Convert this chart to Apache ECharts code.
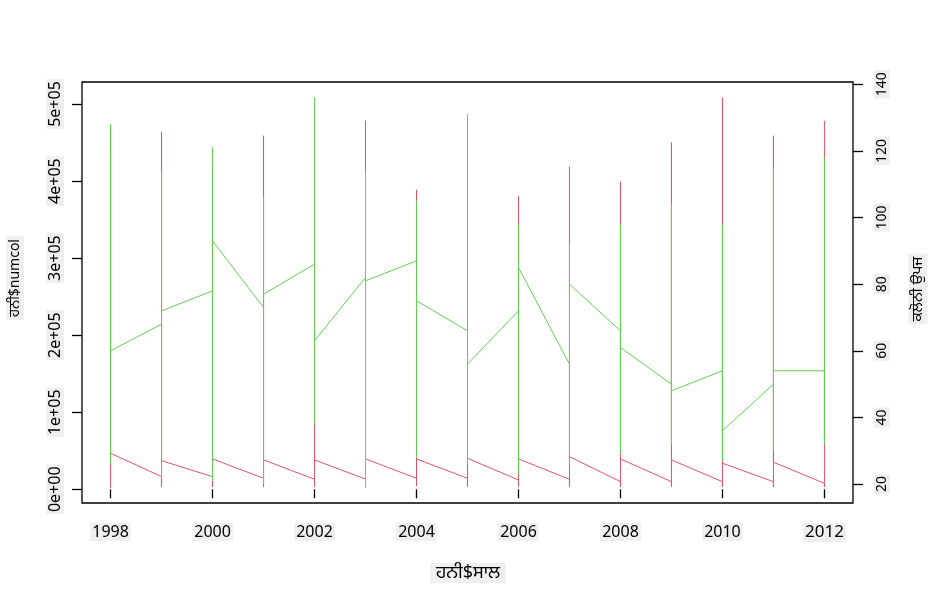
<!DOCTYPE html>
<html>
<head>
<meta charset="utf-8">
<script src="https://cdn.jsdelivr.net/npm/echarts@6.0.0/dist/echarts.min.js"></script>
<style>
  html, body { margin: 0; padding: 0; background: #fff; }
  #chart { width: 937px; height: 605px; }
</style>
</head>
<body>
<div id="chart"></div>
<script>
// years on the x axis
const years = [1998, 1999, 2000, 2001, 2002, 2003, 2004, 2005, 2006, 2007, 2008, 2009, 2010, 2011, 2012];

// numcol (left axis): value where the line arrives at the year, lowest, highest, value where it leaves
const numcolStart = [null, 16400, 16400, 14300, 13000, 13300, 14300, 14300, 12100, 13000, 9900, 9900, 9900, 9900, 7800];
const numcolMin   = [2000, 3000, 3000, 3000, 3400, 4000, 4300, 3400, 3400, 3000, 3000, 3500, 3000, 3000, 3000];
const numcolMax   = [440000, 464000, 420000, 458800, 480000, 478300, 388700, 400000, 380000, 418600, 399100, 449900, 508100, 458800, 478300];
const numcolEnd   = [46800, 37100, 39400, 38100, 38100, 39400, 39400, 40200, 39400, 42400, 39400, 38100, 33800, 35100, null];

// colony yield (right axis)
const yieldStart = [null, 68, 78, 73, 86, 82, 87, 66, 72, 56, 66, 50, 54, 50, 54];
const yieldMin   = [26, 22, 21, 20, 38, 19, 28, 26, 23, 26, 29, 32, 27, 30, 32];
const yieldMax   = [128, 114, 121, 106, 136, 114, 105, 131, 98, 92, 98, 104, 98, 115, 118];
const yieldEnd   = [60, 72, 93, 77, 63, 81, 75, 56, 85, 80, 61, 48, 36, 54, null];

// tick labels
const xTicks = [1998, 2000, 2002, 2004, 2006, 2008, 2010, 2012];
const leftTicks = [0, 100000, 200000, 300000, 400000, 500000];
const rightTicks = [20, 40, 60, 80, 100, 120, 140];

const labelBg = '#efefef';
const font = '"Noto Sans", "Noto Sans Gurmukhi", sans-serif';

// 2012 is drawn a bit larger than the other years
const xLabelRich = {
  b: { fontSize: 16, fontFamily: font, color: '#000' },
  c: { fontSize: 17, fontFamily: font, color: '#000' }
};

// one point per value, in the order the line passes through them
function buildPath(start, lo, hi, end) {
  const pts = [];
  years.forEach((y, i) => {
    if (start[i] != null) pts.push([y, start[i]]);
    pts.push([y, lo[i]]);
    pts.push([y, hi[i]]);
    if (end[i] != null) pts.push([y, end[i]]);
  });
  return pts;
}

const chart = echarts.init(document.getElementById('chart'));

const option = {
  animation: false,
  backgroundColor: '#fff',
  textStyle: { fontFamily: font },
  grid: {
    left: 82, right: 84, top: 82, bottom: 102,
    show: true, borderColor: '#000', borderWidth: 1.3, backgroundColor: 'transparent'
  },
  xAxis: {
    type: 'value',
    min: 1997.44,
    max: 2012.56,
    axisLine: { show: false },
    splitLine: { show: false },
    axisTick: { show: true, customValues: xTicks, length: 9, lineStyle: { color: '#000', width: 1.3 } },
    axisLabel: {
      customValues: xTicks, margin: 20, fontSize: 16, color: '#000',
      backgroundColor: labelBg, padding: [1, 2], fontFamily: font,
      formatter: v => '{' + (v === 2012 ? 'c' : 'b') + '|' + v + '}',
      rich: xLabelRich
    }
  },
  yAxis: [
    {
      type: 'value',
      position: 'left',
      min: -17800,
      max: 528600,
      axisLine: { show: false },
      splitLine: { show: false },
      axisTick: { show: true, customValues: leftTicks, length: 10, lineStyle: { color: '#000', width: 1.3 } },
      axisLabel: {
        customValues: leftTicks, rotate: 90, margin: 18, fontSize: 16, color: '#000',
        backgroundColor: labelBg, padding: [1, 2], fontFamily: font,
        formatter: v => v === 0 ? '0e+00' : (v / 100000) + 'e+05'
      }
    },
    {
      type: 'value',
      position: 'right',
      min: 14.32,
      max: 140.68,
      axisLine: { show: false },
      splitLine: { show: false },
      axisTick: { show: true, customValues: rightTicks, length: 10, lineStyle: { color: '#000', width: 1.3 } },
      axisLabel: {
        customValues: rightTicks, rotate: 90, margin: 21, fontSize: 14, color: '#000',
        backgroundColor: labelBg, padding: [1, 2], fontFamily: font
      }
    }
  ],
  graphic: [
    {
      type: 'text', x: 15, y: 278, rotation: Math.PI / 2,
      style: {
        text: 'ਹਨੀ$numcol', font: '14px ' + font, fill: '#000',
        align: 'center', verticalAlign: 'middle', backgroundColor: labelBg, padding: [2, 3]
      }
    },
    {
      type: 'text', x: 918, y: 289, rotation: Math.PI / 2,
      style: {
        text: 'ਕਲੋਨੀ ਉਪਜ', font: '15px ' + font, fill: '#000',
        align: 'center', verticalAlign: 'middle', backgroundColor: labelBg, padding: [2, 3]
      }
    },
    {
      type: 'text', x: 468, y: 573,
      style: {
        text: 'ਹਨੀ$ਸਾਲ', font: '18px ' + font, fill: '#000',
        align: 'center', verticalAlign: 'middle', backgroundColor: labelBg, padding: [1, 6]
      }
    }
  ],
  series: [
    {
      name: 'numcol',
      type: 'line',
      yAxisIndex: 0,
      data: buildPath(numcolStart, numcolMin, numcolMax, numcolEnd),
      showSymbol: false,
      lineStyle: { color: '#DF536B', width: 1 }
    },
    {
      name: 'yieldpercol',
      type: 'line',
      yAxisIndex: 1,
      data: buildPath(yieldStart, yieldMin, yieldMax, yieldEnd),
      showSymbol: false,
      lineStyle: { color: '#61D04F', width: 1 }
    }
  ]
};

chart.setOption(option);
</script>
</body>
</html>
